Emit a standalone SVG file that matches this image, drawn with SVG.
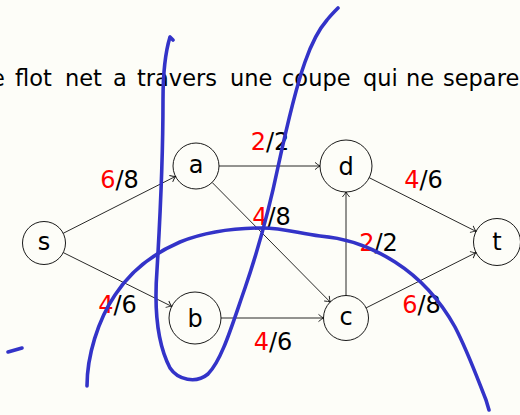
<svg xmlns="http://www.w3.org/2000/svg" width="520" height="415" viewBox="0 0 520 415">
<defs>
<style>
text{font-family:"DejaVu Sans","Liberation Sans",sans-serif;font-size:22.5px;fill:#000}
.node circle{fill:none;stroke:#000;stroke-width:0.9}
.node text{text-anchor:middle;font-size:24px}
.edge{stroke:#111;stroke-width:0.9;fill:none;marker-end:url(#arr)}
.lbl{text-anchor:middle;font-size:24px}
.r{fill:#ff0000}
.ink{fill:none;stroke:#3333c8;stroke-width:3.6;stroke-linecap:round;stroke-linejoin:round}
</style>
<marker id="arr" markerUnits="userSpaceOnUse" markerWidth="12" markerHeight="12" refX="0" refY="0" viewBox="-7 -6 9 12" orient="auto">
<path d="M-5,-3.6 Q-2,-1 0,0 Q-2,1 -5,3.6" fill="none" stroke="#111" stroke-width="0.9"/>
</marker>
</defs>
<rect width="520" height="415" fill="#fdfdf8"/>
<text id="title" y="86"><tspan x="-9">e</tspan><tspan x="15">flot</tspan><tspan x="65">net</tspan><tspan x="113">a</tspan><tspan x="137">travers</tspan><tspan x="230">une</tspan><tspan x="282">coupe</tspan><tspan x="363">qui</tspan><tspan x="406">ne</tspan><tspan x="443">separe</tspan></text>
<g id="connectors">
<line class="edge" x1="63.2" y1="233.3" x2="175.5" y2="176.4"/>
<line class="edge" x1="63.3" y1="252.6" x2="171.7" y2="306.4"/>
<line class="edge" x1="219" y1="166" x2="320" y2="166"/>
<line class="edge" x1="212.1" y1="182.4" x2="330.2" y2="302"/>
<line class="edge" x1="221" y1="318" x2="323.5" y2="318"/>
<line class="edge" x1="346" y1="295.5" x2="346" y2="192"/>
<line class="edge" x1="369.2" y1="177.7" x2="476" y2="231.4"/>
<line class="edge" x1="366.1" y1="307.9" x2="476" y2="252.6"/>
<text class="lbl" x="119.5" y="188"><tspan class="r">6</tspan>/8</text>
<text class="lbl" x="270" y="150"><tspan class="r">2</tspan>/2</text>
<text class="lbl" x="271.5" y="225"><tspan class="r">4</tspan>/8</text>
<text class="lbl" x="423.5" y="188"><tspan class="r">4</tspan>/6</text>
<text class="lbl" x="378.5" y="251"><tspan class="r">2</tspan>/2</text>
<text class="lbl" x="117.5" y="313"><tspan class="r">4</tspan>/6</text>
<text class="lbl" x="273" y="350"><tspan class="r">4</tspan>/6</text>
<text class="lbl" x="421.5" y="313"><tspan class="r">6</tspan>/8</text>
</g>
<g id="node-s" class="node"><circle cx="44" cy="243" r="21.5"/><text x="44" y="250">s</text></g>
<g id="node-a" class="node"><circle cx="196" cy="166" r="23"/><text x="196" y="173">a</text></g>
<g id="node-d" class="node"><circle cx="346" cy="166" r="26"/><text x="346" y="175">d</text></g>
<g id="node-t" class="node"><circle cx="497" cy="242" r="23.5"/><text x="497" y="250">t</text></g>
<g id="node-b" class="node"><circle cx="195" cy="318" r="26"/><text x="195" y="327">b</text></g>
<g id="node-c" class="node"><circle cx="346" cy="318" r="22.5"/><text x="346" y="325">c</text></g>
<g id="annotations">
<path class="ink" d="M173,40 L170,37 C166,50 163,70 163,100 C163,150 160,220 157,270 C154,310 158,345 170,368 C178,380 196,384 208,374 C222,360 232,325 245,288 C258,250 268,215 278,167 C286,130 295,90 305,62 C312,42 320,28 327,20 C331,15 335,11 338,8"/>
<path class="ink" d="M87,386 C87,356 98,320 115,295 C130,272 150,255 180,242 C205,232 235,228 262,228 C285,228 300,234 320,236 C345,238 370,246 395,262 C420,278 440,300 455,327 C468,352 478,380 486,400 L489,410"/>
<path class="ink" d="M8,352 L22,348"/>
</g>
</svg>
